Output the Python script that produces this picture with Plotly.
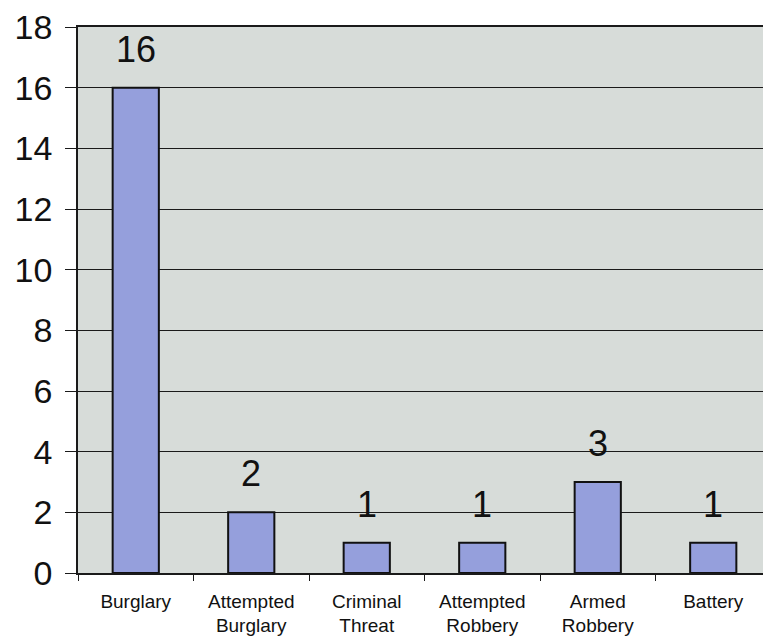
import plotly.graph_objects as go

categories = ["Burglary", "Attempted<br>Burglary", "Criminal<br>Threat",
              "Attempted<br>Robbery", "Armed<br>Robbery", "Battery"]
counts = [16, 2, 1, 1, 3, 1]
y_ticks = [0, 2, 4, 6, 8, 10, 12, 14, 16, 18]

fig = go.Figure(go.Bar(
    x=categories, y=counts,
    marker=dict(color="#959fdc", line=dict(color="#111111", width=2)),
    width=0.4,
))

for c, v in zip(categories, counts):
    fig.add_annotation(
        x=c, y=v, text=str(v), showarrow=False,
        yanchor="bottom", yshift=16,
        font=dict(family="Liberation Sans, Arial", size=36, color="#111111"),
    )

fig.update_layout(
    width=763, height=628,
    margin=dict(l=70, r=0, t=16, b=63),
    paper_bgcolor="white", plot_bgcolor="#d7dcd9",
    showlegend=False,
    font=dict(family="Liberation Sans, Arial", color="#111111"),
)
fig.update_yaxes(
    range=[0, 18], tickvals=y_ticks,
    tickfont=dict(size=34, color="#111111"),
    showgrid=True, gridcolor="#1a1a1a", gridwidth=1.3,
    showline=True, linecolor="#1a1a1a", linewidth=1.5,
    ticks="outside", ticklen=11, tickcolor="#1a1a1a",
    ticklabelstandoff=6, ticklabeloverflow="allow",
    zeroline=False,
)
fig.update_xaxes(
    tickfont=dict(size=19, color="#111111"),
    showline=True, linecolor="#1a1a1a", linewidth=1.5, mirror=True,
    ticks="outside", tickson="boundaries", ticklen=6, tickcolor="#1a1a1a",
    ticklabelstandoff=10,
)

fig.write_html("out.html")
